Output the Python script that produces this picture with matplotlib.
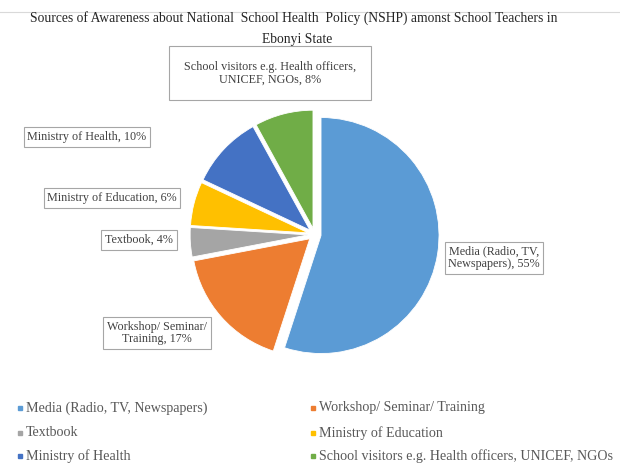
import matplotlib
matplotlib.use("Agg")
import matplotlib.pyplot as plt

categories = ["Media (Radio, TV, Newspapers)", "Workshop/ Seminar/ Training", "Textbook",
              "Ministry of Education", "Ministry of Health",
              "School visitors e.g. Health officers, UNICEF, NGOs"]
values = [55, 17, 4, 6, 10, 8]
slice_labels = ["Media (Radio, TV,\nNewspapers), 55%", "Workshop/ Seminar/\nTraining, 17%",
                "Textbook, 4%", "Ministry of Education, 6%", "Ministry of Health, 10%",
                "School visitors e.g. Health officers,\nUNICEF, NGOs, 8%"]
colors = ["#5B9BD5", "#ED7D31", "#A5A5A5", "#FFC000", "#4472C4", "#70AD47"]
title_lines = ["Sources of Awareness about National  School Health  Policy (NSHP) amonst School Teachers in",
               "Ebonyi State"]

plt.rcParams['font.family'] = ['Liberation Serif', 'DejaVu Serif']
W, H = 620, 466
fig = plt.figure(figsize=(W / 100, H / 100), dpi=100)
ax = fig.add_axes([0, 0, 1, 1])

def Y(y):
    return H - y

cx, cy, r = 314.6, 234.5, 118
ax.pie(values, colors=colors, startangle=90, counterclock=False,
       explode=[6.5] * len(values), center=(cx, Y(cy)), radius=r,
       wedgeprops=dict(edgecolor="white", linewidth=0.6), frame=False)
ax.set_xlim(0, W)
ax.set_ylim(0, H)
ax.set_aspect('auto')
ax.axis('off')

# top faint rule
ax.plot([0, W], [Y(12), Y(12)], color="#D9D9D9", lw=0.8)

# title
ax.text(294, Y(18), title_lines[0], ha="center", va="center", fontsize=9.8, color="#262626")
ax.text(297, Y(40), title_lines[1], ha="center", va="center", fontsize=9.8, color="#262626")

# data label positions (centers) and paddings
label_pos = [(494, 258), (157, 333), (139, 240), (112, 198), (87, 137), (270, 73)]
label_pad = [0.3, 0.3, 0.3, 0.3, 0.3, 1.2]
for txt, (x, y), pad in zip(slice_labels, label_pos, label_pad):
    ax.text(x, Y(y), txt, ha="center", va="center", fontsize=8.7, color="#404040",
            linespacing=1.1,
            bbox=dict(boxstyle=f"square,pad={pad}", fc="white", ec="#A6A6A6", lw=0.8))

# legend (row-major, two columns)
leg_x = [20, 313]
leg_y = [408, 433, 456]
for i, (cat, col) in enumerate(zip(categories, colors)):
    x = leg_x[i % 2]
    y = leg_y[i // 2]
    ax.plot([x], [Y(y)], marker="s", ms=3.2, color=col, ls="none")
    ax.text(x + 6, Y(y), cat, ha="left", va="center", fontsize=10.1, color="#595959")

fig.savefig("out.png", dpi=100)
